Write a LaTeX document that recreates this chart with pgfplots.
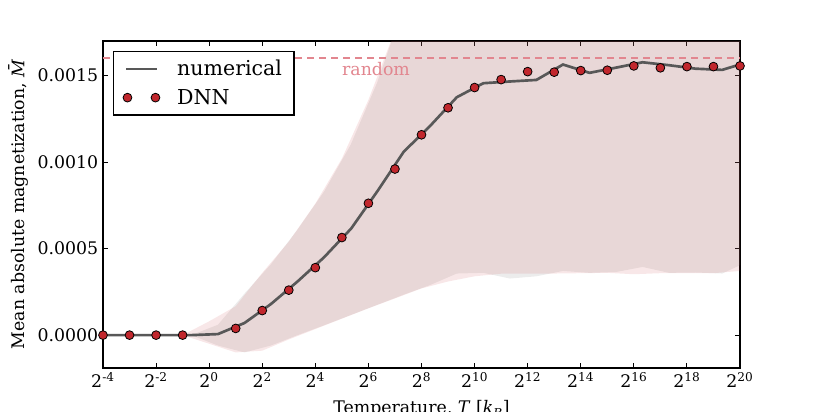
\documentclass[border=0pt]{standalone}
\usepackage{fontspec}
\setmainfont{DejaVu Serif}
\usepackage{pgfplots}
\pgfplotsset{compat=1.18}
\usepgfplotslibrary{fillbetween}
\definecolor{dnnred}{RGB}{193,39,45}
\definecolor{numgray}{RGB}{88,88,88}
\definecolor{randpink}{RGB}{226,134,143}
\definecolor{bandpink}{RGB}{200,60,65}
\definecolor{bandgray}{RGB}{128,128,128}
\newcommand{\pw}[1]{2\textsuperscript{#1}}
\pgfplotsset{
  numleg/.style={legend image code/.code={\draw[##1, line width=2pt] (0pt,0pt) -- (23.25pt,0pt);}},
  dnnleg/.style={legend image code/.code={\draw[##1] plot coordinates {(1pt,0pt) (22pt,0pt)};}},
}

\pgfplotstableread{
x y
-4 0
-3 0
-2 0
-1 0
1 0.0000387
2 0.000142
3 0.00026
4 0.00039
5 0.000564
6 0.000762
7 0.00096
8 0.001158
9 0.001314
10 0.001431
11 0.001477
12 0.001523
13 0.00152
14 0.001529
15 0.001531
16 0.001556
17 0.001545
18 0.001552
19 0.001552
20 0.001556
}\dnn

\pgfplotstableread{
x y
-4 0
-3.67 0
-2.67 0
-1.67 0
-0.67 0
0.33 0.000006
1.33 0.00007
2.33 0.00018
3.33 0.00031
4.33 0.00045
5.35 0.000616
6.33 0.00083
7.33 0.00106
8.33 0.00121
9.33 0.001375
10.33 0.001456
11.33 0.001466
12.33 0.001475
13.33 0.001564
14.33 0.001516
15.33 0.001546
16.33 0.001577
17.33 0.00156
18.33 0.00154
19.33 0.001533
20.33 0.00158
}\numerical

% band of the numerical data: x, lower, upper
\pgfplotstableread{
x lo up
-4 0 0
-0.67 0 0
0.33 -0.00006 0.00006
1.33 -0.0001 0.00024
2.33 -0.00006 0.00041
3.33 0.0 0.00061
4.33 0.000057 0.00083
5.33 0.000116 0.00110
6.33 0.000175 0.00146
7.33 0.000234 0.0019
8.33 0.00029 0.0024
9.33 0.000356 0.0027
10.33 0.00036 0.0028
11.33 0.000327 0.0028
12.33 0.00034 0.0028
13.33 0.000371 0.0028
14.33 0.00036 0.0028
15.33 0.000365 0.0028
16.33 0.000394 0.0028
17.33 0.00036 0.0028
18.33 0.000362 0.0028
19.33 0.000356 0.0028
20 0.000404 0.0028
}\numband

% band of the DNN data: x, lower, upper
\pgfplotstableread{
x lo up
-4 0 0
-1 0 0
0 -0.00005 0.00008
1 -0.0001 0.000167
2 -0.00009 0.00036
3 -0.000025 0.00054
4 0.000035 0.00076
5 0.000095 0.00102
6 0.000155 0.00136
7 0.000212 0.00176
8 0.00027 0.0023
9 0.00031 0.0028
10 0.00034 0.0028
11 0.000355 0.0028
12 0.000356 0.0028
13 0.000356 0.0028
14 0.000358 0.0028
15 0.00036 0.0028
16 0.000352 0.0028
17 0.000358 0.0028
18 0.000358 0.0028
19 0.000358 0.0028
20 0.000371 0.0028
}\dnnband

\begin{document}
\begin{tikzpicture}
\begin{axis}[
  at={(0,0)}, anchor=south west,
  scale only axis, width=477.75pt, height=245.25pt,
  xmin=-4, xmax=20, ymin=-0.00019, ymax=0.0017,
  xtick={-4,-2,...,20},
  xticklabels={\pw{-4},\pw{-2},\pw{0},\pw{2},\pw{4},\pw{6},\pw{8},\pw{10},\pw{12},\pw{14},\pw{16},\pw{18},\pw{20}},
  ytick={0,0.0005,0.001,0.0015},
  yticklabels={0.0000,0.0005,0.0010,0.0015},
  scaled y ticks=false,
  tick align=inside, major tick length=4pt,
  tick style={black, line width=0.8pt},
  axis line style={line width=1.2pt},
  ticklabel style={font=\fontsize{13}{15}\selectfont},
  every axis x label/.style={at={(axis description cs:0.5,-0.14)}, anchor=base, font=\fontsize{13}{15}\selectfont},
  every axis y label/.style={at={(axis description cs:-0.133,0.5)}, rotate=90, anchor=center, font=\fontsize{13}{15}\selectfont},
  xlabel={Temperature, \textit{T} [\textit{k}\textsubscript{\textit{B}}]},
  ylabel={Mean absolute magnetization, \textit{\=M}},
  legend style={at={(axis description cs:0.0157,0.970)}, anchor=north west,
    draw=black, line width=1.1pt, fill=white,
    inner xsep=7pt, inner ysep=4.5pt, row sep=4.5pt,
    font=\fontsize{15.4}{18}\selectfont,
    /tikz/every odd column/.append style={column sep=11pt}},
  legend cell align=left,
]
\addplot[name path=gU, draw=none, forget plot] table[x=x, y=up] {\numband};
\addplot[name path=gL, draw=none, forget plot] table[x=x, y=lo] {\numband};
\addplot[bandgray, fill opacity=0.15, draw=none, forget plot] fill between[of=gU and gL];
\addplot[name path=pU, draw=none, forget plot] table[x=x, y=up] {\dnnband};
\addplot[name path=pL, draw=none, forget plot] table[x=x, y=lo] {\dnnband};
\addplot[bandpink, fill opacity=0.12, draw=none, forget plot] fill between[of=pU and pL];

\addplot[randpink, line width=1.3pt, dash pattern=on 5.5pt off 3.5pt, forget plot] coordinates {(-4,0.0016) (20,0.0016)};
\node[anchor=base west, inner sep=0pt, text=randpink, font=\fontsize{13}{15}\selectfont] at (axis cs:5,0.0015) {random};

\addplot[numgray, line width=2pt, no marks, numleg] table[x=x, y=y] {\numerical};
\addlegendentry{numerical}
\addplot[only marks, mark=*, mark size=3.3pt, mark options={fill=dnnred, draw=black, line width=0.6pt}, dnnleg] table[x=x, y=y] {\dnn};
\addlegendentry{DNN}
\end{axis}
\pgfresetboundingbox
\path[use as bounding box] (-77.25pt,-32.25pt) rectangle (539.25pt,276pt);
\end{tikzpicture}
\end{document}
